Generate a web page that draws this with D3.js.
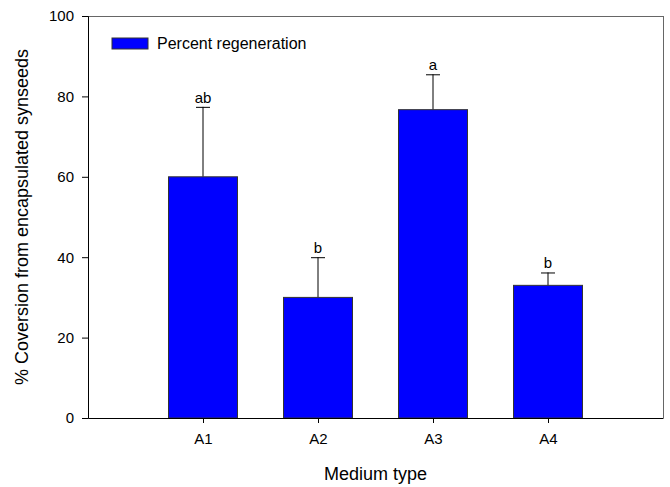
<!DOCTYPE html>
<html><head><meta charset="utf-8">
<script src="https://cdn.jsdelivr.net/npm/d3@7"></script>
<style>body{margin:0;background:#fff}svg{display:block}text{font-family:"Liberation Sans",Arial,sans-serif;fill:#000}</style>
</head><body><svg id="c" width="670" height="487"></svg>
<script>
const categories = ["A1","A2","A3","A4"];
const values = [60, 30, 76.7, 33];
const errors = [17.4, 10, 8.8, 3.2];
const letters = ["ab","b","a","b"];
const yTicks = [0,20,40,60,80,100];
const legendLabel = "Percent regeneration";

const svg = d3.select("#c");
const L = 88, R = 663, T = 16, B = 418;
const y = d3.scaleLinear().domain([0,100]).range([B,T]);
const x = d3.scaleLinear().domain([0,5]).range([L,R]);
const bw = (x(1)-x(0))*0.6;

// frame top/right
svg.append("line").attr("x1",L).attr("x2",R).attr("y1",T+0.5).attr("y2",T+0.5).attr("stroke","#666").attr("stroke-width",1);
svg.append("line").attr("x1",R+0.5).attr("x2",R+0.5).attr("y1",T).attr("y2",B).attr("stroke","#666").attr("stroke-width",1);

// bars
categories.forEach((c,i)=>{
  const cx = x(i+1);
  const top = y(values[i]+errors[i]);
  svg.append("line").attr("x1",cx).attr("x2",cx).attr("y1",y(values[i])).attr("y2",top).attr("stroke","#000");
  svg.append("line").attr("x1",cx-7).attr("x2",cx+7).attr("y1",top+0.5).attr("y2",top+0.5).attr("stroke","#000");
  svg.append("rect").attr("x",cx-bw/2).attr("y",y(values[i])).attr("width",bw).attr("height",y(0)-y(values[i]))
    .attr("fill","#0000ff").attr("stroke","#333").attr("stroke-width",1);
  svg.append("text").attr("x",cx).attr("y",top-4).attr("text-anchor","middle").attr("font-size",15).text(letters[i]);
});

// axes
const ya = svg.append("g").attr("transform",`translate(${L},0)`)
  .call(d3.axisLeft(y).tickValues(yTicks).tickSize(6).tickPadding(8));
ya.select(".domain").attr("stroke","#000");
ya.selectAll("text").attr("font-size",15).attr("font-family","Liberation Sans, Arial, sans-serif");
const xa = svg.append("g").attr("transform",`translate(0,${B})`)
  .call(d3.axisBottom(x).tickValues([1,2,3,4]).tickFormat(d=>categories[d-1]).tickSize(5).tickPadding(10).tickSizeOuter(0));
xa.select(".domain").attr("stroke","#000");
xa.selectAll("text").attr("font-size",15).attr("font-family","Liberation Sans, Arial, sans-serif");

// titles
svg.append("text").attr("x",(L+R)/2).attr("y",480).attr("text-anchor","middle").attr("font-size",18).text("Medium type");
svg.append("text").attr("transform",`translate(28,${(T+B)/2}) rotate(-90)`).attr("text-anchor","middle").attr("font-size",18)
  .text("% Coversion from encapsulated synseeds");

// legend
svg.append("rect").attr("x",112).attr("y",38).attr("width",36).attr("height",11).attr("fill","#0000ff").attr("stroke","#333");
svg.append("text").attr("x",157).attr("y",49).attr("font-size",16).text(legendLabel);
</script></body></html>
